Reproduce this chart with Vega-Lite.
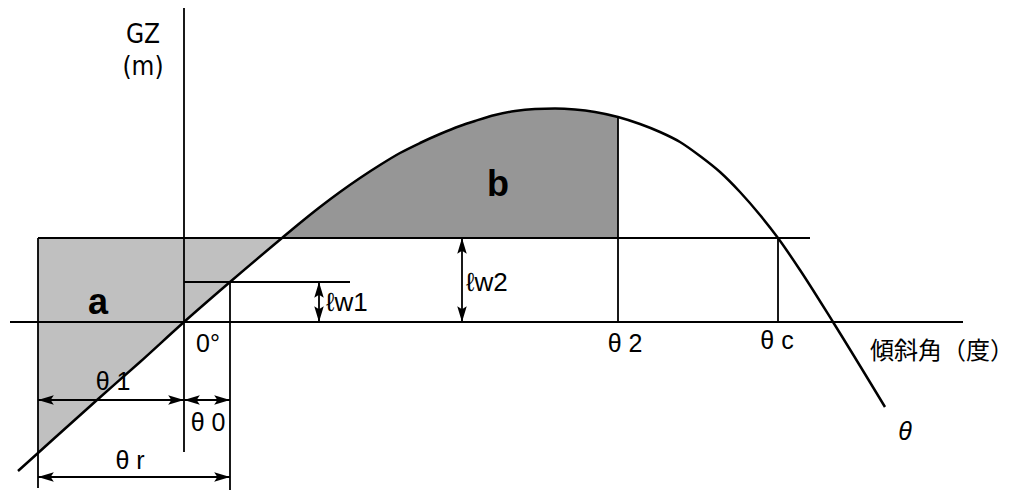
{
  "$schema": "https://vega.github.io/schema/vega-lite/v6.json",
  "width": 1015,
  "height": 492,
  "autosize": {"type": "fit", "contains": "padding"},
  "padding": 0,
  "background": "white",
  "config": {"view": {"stroke": null}},
  "datasets": {
    "curve": [
      {"x": -16.6, "gz": -1.49}, {"x": -14.6, "gz": -1.31}, {"x": -8.7, "gz": -0.78},
      {"x": -4.4, "gz": -0.40}, {"x": 0, "gz": 0}, {"x": 4.6, "gz": 0.40},
      {"x": 9.8, "gz": 0.84}, {"x": 11.6, "gz": 0.99}, {"x": 13.6, "gz": 1.15},
      {"x": 15.6, "gz": 1.30}, {"x": 17.6, "gz": 1.44}, {"x": 19.6, "gz": 1.57},
      {"x": 21.6, "gz": 1.69}, {"x": 23.6, "gz": 1.79}, {"x": 25.6, "gz": 1.88},
      {"x": 27.6, "gz": 1.96}, {"x": 29.1, "gz": 2.01}, {"x": 31.1, "gz": 2.07},
      {"x": 33.1, "gz": 2.11}, {"x": 35.1, "gz": 2.13}, {"x": 37.1, "gz": 2.135},
      {"x": 39.1, "gz": 2.125}, {"x": 41.1, "gz": 2.10}, {"x": 43.4, "gz": 2.05},
      {"x": 45.6, "gz": 1.98}, {"x": 47.6, "gz": 1.90}, {"x": 49.6, "gz": 1.80},
      {"x": 51.6, "gz": 1.66}, {"x": 53.6, "gz": 1.50}, {"x": 55.6, "gz": 1.30},
      {"x": 57.6, "gz": 1.07}, {"x": 59.4, "gz": 0.84}, {"x": 61.6, "gz": 0.52},
      {"x": 64.9, "gz": 0.0}, {"x": 70.1, "gz": -0.85}
    ],
    "segments": [
      {"x": 0, "x2": 0, "y": 3.14, "y2": -1.30},
      {"x": -17.4, "x2": 77.9, "y": 0, "y2": 0},
      {"x": -14.6, "x2": 62.6, "y": 0.84, "y2": 0.84},
      {"x": -14.6, "x2": -14.6, "y": 0.84, "y2": -1.66},
      {"x": 0, "x2": 16.6, "y": 0.40, "y2": 0.40},
      {"x": 4.6, "x2": 4.6, "y": 0.40, "y2": -1.68},
      {"x": 43.4, "x2": 43.4, "y": 2.05, "y2": 0},
      {"x": 59.4, "x2": 59.4, "y": 0.84, "y2": 0},
      {"x": -14.6, "x2": 0, "y": -0.78, "y2": -0.78},
      {"x": 0, "x2": 4.6, "y": -0.78, "y2": -0.78},
      {"x": -14.6, "x2": 4.6, "y": -1.55, "y2": -1.55},
      {"x": 13.5, "x2": 13.5, "y": 0, "y2": 0.40},
      {"x": 27.8, "x2": 27.8, "y": 0, "y2": 0.84}
    ],
    "heads": [
      {"x": -14.6, "y": -0.78, "dir": "left"}, {"x": 0, "y": -0.78, "dir": "right"},
      {"x": 0, "y": -0.78, "dir": "left"}, {"x": 4.6, "y": -0.78, "dir": "right"},
      {"x": -14.6, "y": -1.55, "dir": "left"}, {"x": 4.6, "y": -1.55, "dir": "right"},
      {"x": 13.5, "y": 0.40, "dir": "up"}, {"x": 13.5, "y": 0, "dir": "down"},
      {"x": 27.8, "y": 0.84, "dir": "up"}, {"x": 27.8, "y": 0, "dir": "down"}
    ],
    "labels": [
      {"text": "0°", "x": 2.4, "y": -0.22, "role": "center"},
      {"text": "θ 1", "x": -7.1, "y": -0.60, "role": "center"},
      {"text": "θ 0", "x": 2.4, "y": -1.01, "role": "center"},
      {"text": "θ r", "x": -5.4, "y": -1.39, "role": "center"},
      {"text": "θ 2", "x": 44.1, "y": -0.22, "role": "center"},
      {"text": "θ c", "x": 59.3, "y": -0.19, "role": "center"},
      {"text": "ℓw1", "x": 14.2, "y": 0.19, "role": "left"},
      {"text": "ℓw2", "x": 28.2, "y": 0.39, "role": "left"},
      {"text": "傾斜角（度）", "x": 68.6, "y": -0.30, "role": "cjk"},
      {"text": "GZ", "x": -4.1, "y": 2.87, "role": "narrow"},
      {"text": "(m)", "x": -4.1, "y": 2.55, "role": "narrow"},
      {"text": "a", "x": -8.6, "y": 0.19, "role": "bold"},
      {"text": "b", "x": 31.4, "y": 1.37, "role": "bold"},
      {"text": "θ", "x": 72.1, "y": -1.10, "role": "italic"}
    ]
  },
  "layer": [
    {
      "data": {"name": "curve"},
      "transform": [{"filter": "datum.x >= -14.6 && datum.x <= 9.8"}],
      "mark": {"type": "area", "interpolate": "monotone", "color": "#c0c0c0"},
      "encoding": {
        "x": {"field": "x", "type": "quantitative", "scale": {"domain": [-18.4, 83.1], "nice": false, "zero": false}, "axis": null},
        "y": {"field": "gz", "type": "quantitative", "scale": {"domain": [-1.70, 3.22], "nice": false, "zero": false}, "axis": null},
        "y2": {"datum": 0.84}
      }
    },
    {
      "data": {"name": "curve"},
      "transform": [{"filter": "datum.x >= 9.8 && datum.x <= 43.4"}],
      "mark": {"type": "area", "interpolate": "monotone", "color": "#969696"},
      "encoding": {
        "x": {"field": "x", "type": "quantitative", "scale": {"domain": [-18.4, 83.1], "nice": false, "zero": false}, "axis": null},
        "y": {"field": "gz", "type": "quantitative", "scale": {"domain": [-1.70, 3.22], "nice": false, "zero": false}, "axis": null},
        "y2": {"datum": 0.84}
      }
    },
    {
      "data": {"name": "segments"},
      "mark": {"type": "rule", "color": "black", "strokeWidth": 1.8},
      "encoding": {
        "x": {"field": "x", "type": "quantitative", "scale": {"domain": [-18.4, 83.1], "nice": false, "zero": false}, "axis": null},
        "x2": {"field": "x2"},
        "y": {"field": "y", "type": "quantitative", "scale": {"domain": [-1.70, 3.22], "nice": false, "zero": false}, "axis": null},
        "y2": {"field": "y2"}
      }
    },
    {
      "data": {"name": "curve"},
      "mark": {"type": "line", "interpolate": "monotone", "color": "black", "strokeWidth": 2.5},
      "encoding": {
        "x": {"field": "x", "type": "quantitative", "scale": {"domain": [-18.4, 83.1], "nice": false, "zero": false}, "axis": null},
        "y": {"field": "gz", "type": "quantitative", "scale": {"domain": [-1.70, 3.22], "nice": false, "zero": false}, "axis": null}
      }
    },
    {
      "data": {"name": "heads"},
      "mark": {"type": "point", "filled": true, "color": "black", "opacity": 1, "size": 1000},
      "encoding": {
        "x": {"field": "x", "type": "quantitative", "scale": {"domain": [-18.4, 83.1], "nice": false, "zero": false}, "axis": null},
        "y": {"field": "y", "type": "quantitative", "scale": {"domain": [-1.70, 3.22], "nice": false, "zero": false}, "axis": null},
        "shape": {
          "field": "dir", "type": "nominal", "legend": null,
          "scale": {
            "domain": ["left", "right", "up", "down"],
            "range": ["M0,0L1,-0.3L0.8,0L1,0.3Z", "M0,0L-1,-0.3L-0.8,0L-1,0.3Z", "M0,0L-0.3,1L0,0.8L0.3,1Z", "M0,0L-0.3,-1L0,-0.8L0.3,-1Z"]
          }
        }
      }
    },
    {
      "data": {"name": "labels"},
      "transform": [{"filter": "datum.role == 'center'"}],
      "mark": {"type": "text", "align": "center", "baseline": "middle", "font": "Liberation Sans", "fontSize": 25, "color": "black"},
      "encoding": {
        "x": {"field": "x", "type": "quantitative", "scale": {"domain": [-18.4, 83.1], "nice": false, "zero": false}, "axis": null},
        "y": {"field": "y", "type": "quantitative", "scale": {"domain": [-1.70, 3.22], "nice": false, "zero": false}, "axis": null},
        "text": {"field": "text"}
      }
    },
    {
      "data": {"name": "labels"},
      "transform": [{"filter": "datum.role == 'left'"}],
      "mark": {"type": "text", "align": "left", "baseline": "middle", "font": "Liberation Sans", "fontSize": 26, "color": "black"},
      "encoding": {
        "x": {"field": "x", "type": "quantitative", "scale": {"domain": [-18.4, 83.1], "nice": false, "zero": false}, "axis": null},
        "y": {"field": "y", "type": "quantitative", "scale": {"domain": [-1.70, 3.22], "nice": false, "zero": false}, "axis": null},
        "text": {"field": "text"}
      }
    },
    {
      "data": {"name": "labels"},
      "transform": [{"filter": "datum.role == 'cjk'"}],
      "mark": {"type": "text", "align": "left", "baseline": "middle", "font": "Noto Sans CJK JP", "fontSize": 24, "color": "black"},
      "encoding": {
        "x": {"field": "x", "type": "quantitative", "scale": {"domain": [-18.4, 83.1], "nice": false, "zero": false}, "axis": null},
        "y": {"field": "y", "type": "quantitative", "scale": {"domain": [-1.70, 3.22], "nice": false, "zero": false}, "axis": null},
        "text": {"field": "text"}
      }
    },
    {
      "data": {"name": "labels"},
      "transform": [{"filter": "datum.role == 'narrow'"}],
      "mark": {"type": "text", "align": "center", "baseline": "middle", "font": "Liberation Sans Narrow, DejaVu Sans Condensed, Liberation Sans", "fontSize": 26, "color": "black"},
      "encoding": {
        "x": {"field": "x", "type": "quantitative", "scale": {"domain": [-18.4, 83.1], "nice": false, "zero": false}, "axis": null},
        "y": {"field": "y", "type": "quantitative", "scale": {"domain": [-1.70, 3.22], "nice": false, "zero": false}, "axis": null},
        "text": {"field": "text"}
      }
    },
    {
      "data": {"name": "labels"},
      "transform": [{"filter": "datum.role == 'bold'"}],
      "mark": {"type": "text", "align": "center", "baseline": "middle", "font": "Liberation Sans Narrow, Liberation Sans", "fontWeight": "bold", "fontSize": 36, "color": "black"},
      "encoding": {
        "x": {"field": "x", "type": "quantitative", "scale": {"domain": [-18.4, 83.1], "nice": false, "zero": false}, "axis": null},
        "y": {"field": "y", "type": "quantitative", "scale": {"domain": [-1.70, 3.22], "nice": false, "zero": false}, "axis": null},
        "text": {"field": "text"}
      }
    },
    {
      "data": {"name": "labels"},
      "transform": [{"filter": "datum.role == 'italic'"}],
      "mark": {"type": "text", "align": "center", "baseline": "middle", "font": "Liberation Sans", "fontStyle": "italic", "fontSize": 25, "color": "black"},
      "encoding": {
        "x": {"field": "x", "type": "quantitative", "scale": {"domain": [-18.4, 83.1], "nice": false, "zero": false}, "axis": null},
        "y": {"field": "y", "type": "quantitative", "scale": {"domain": [-1.70, 3.22], "nice": false, "zero": false}, "axis": null},
        "text": {"field": "text"}
      }
    }
  ]
}
